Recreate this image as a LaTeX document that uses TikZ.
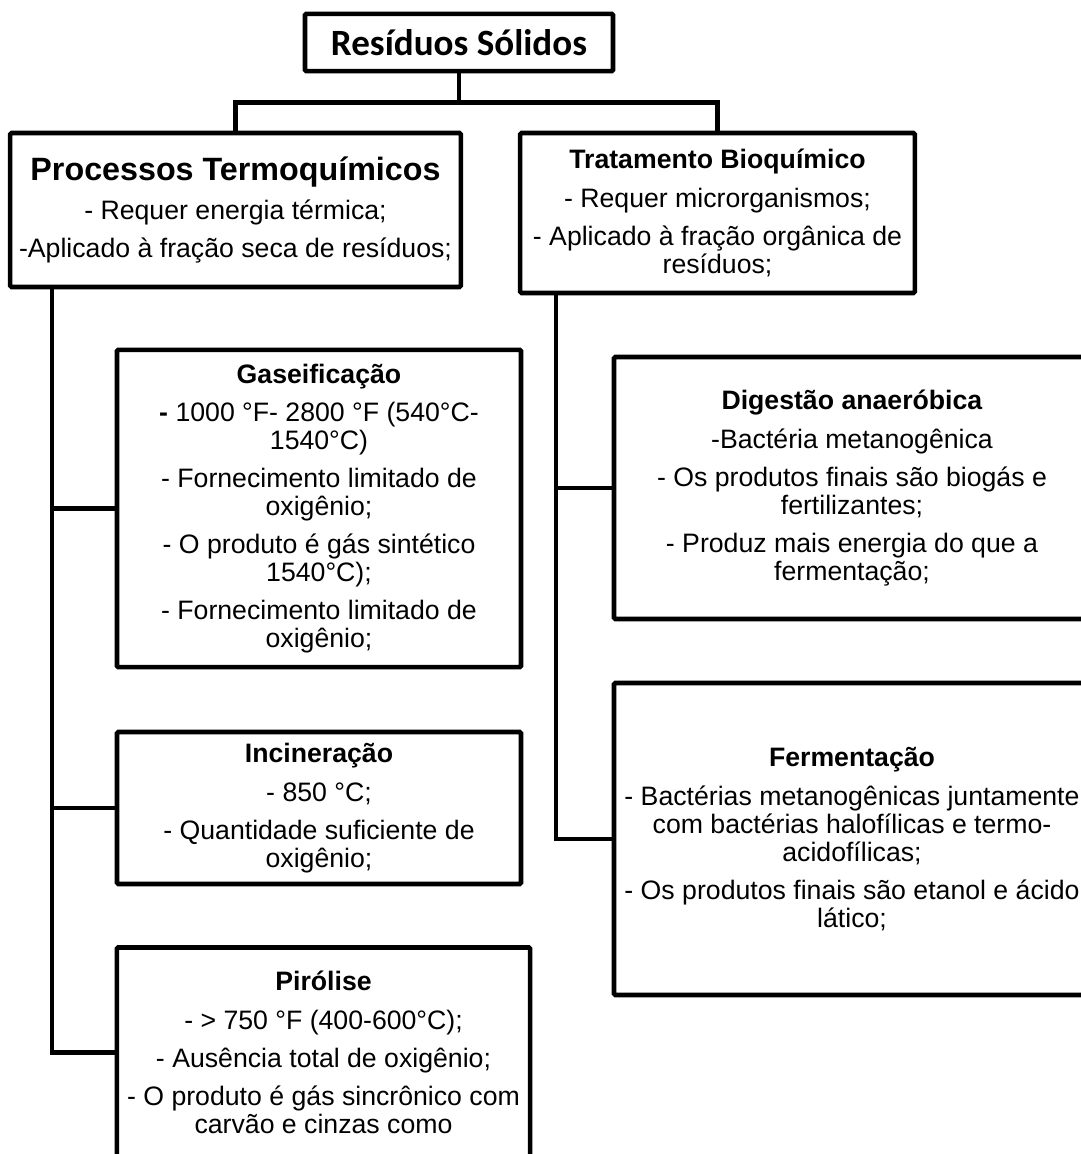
\documentclass[tikz,border=0pt]{standalone}
\usepackage{fontspec}
\setmainfont{Liberation Sans}
\newfontfamily\titlefont{Carlito}
\usepackage{tikz}
\usetikzlibrary{positioning}

\begin{document}
\begin{tikzpicture}[
            x=0.75pt, y=-0.75pt,
            every node/.style={align=center, inner sep=0pt, font=\fontsize{20}{21}\selectfont},
            box/.style={draw, line width=3.4pt, rounded corners=1pt},
            conn/.style={line width=3.4pt}
          ]

          \useasboundingbox (0,0) rectangle (1081,1154);
          \clip (0,0) rectangle (1081,1154);

          % Top of the tree
          \node[box, minimum width=231pt, minimum height=43pt] (res) at (459,42.5)
            {\titlefont\fontsize{27.8}{30}\selectfont\bfseries Resíduos Sólidos};

          % Two main groups
          \node[box, minimum width=338pt, minimum height=115.5pt] (termo) at (235.5,210)
            {{\fontsize{24.2}{25}\selectfont\bfseries Processos Termoquímicos}\\[8pt]
             - Requer energia térmica;\\[7.5pt]
             -Aplicado à fração seca de resíduos;};
          \node[box, minimum width=296pt, minimum height=120pt] (bio) at (717.5,213)
            {\textbf{Tratamento Bioquímico}\\[8pt]
             - Requer microrganismos;\\[7.5pt]
             - Aplicado à fração orgânica de\\resíduos;};

          % Thermochemical processes
          \node[box, minimum width=303pt, minimum height=238pt] (gas) at (319,508.5)
            {\textbf{Gaseificação}\\[8pt]
             \textbf{-} 1000 °F- 2800 °F (540°C-\\1540°C)\\[7.5pt]
             - Fornecimento limitado de\\oxigênio;\\[7.5pt]
             - O produto é gás sintético\\1540°C);\\[7.5pt]
             - Fornecimento limitado de\\oxigênio;};
          \node[box, minimum width=303pt, minimum height=114pt] (inc) at (319,808)
            {\textbf{Incineração}\\[8pt]
             - 850 °C;\\[7.5pt]
             - Quantidade suficiente de\\oxigênio;};
          \node[box, minimum width=310pt, minimum height=157.5pt] (piro) at (323.5,1052.5)
            {\textbf{Pirólise}\\[8pt]
             - > 750 °F (400-600°C);\\[7.5pt]
             - Ausência total de oxigênio;\\[7.5pt]
             - O produto é gás sincrônico com\\carvão e cinzas como};

          % Biochemical treatment
          \node[box, minimum width=357pt, minimum height=196.5pt] (dig) at (852,488)
            {\textbf{Digestão anaeróbica}\\[8pt]
             -Bactéria metanogênica\\[7.5pt]
             - Os produtos finais são biogás e\\fertilizantes;\\[7.5pt]
             - Produz mais energia do que a\\fermentação;};
          \node[box, minimum width=357pt, minimum height=234pt] (ferm) at (852,839)
            {\textbf{Fermentação}\\[8pt]
             - Bactérias metanogênicas juntamente\\com bactérias halofílicas e termo-\\acidofílicas;\\[7.5pt]
             - Os produtos finais são etanol e ácido\\lático;};

          % Spines under the two groups
          \coordinate (lsp) at ([xshift=33pt]termo.south west);
          \coordinate (rsp) at ([xshift=28.5pt]bio.south west);

          % Edges
          \draw[conn] (res.south) -- ++(0,29) -| (termo.north);
          \draw[conn] (res.south) -- ++(0,29) -| (bio.north);
          \draw[conn] (lsp) |- (piro.west);
          \draw[conn] (gas.west -| lsp) -- (gas.west);
          \draw[conn] (inc.west -| lsp) -- (inc.west);
          \draw[conn] (rsp) |- (ferm.west);
          \draw[conn] (dig.west -| rsp) -- (dig.west);

        \end{tikzpicture}
\end{document}
